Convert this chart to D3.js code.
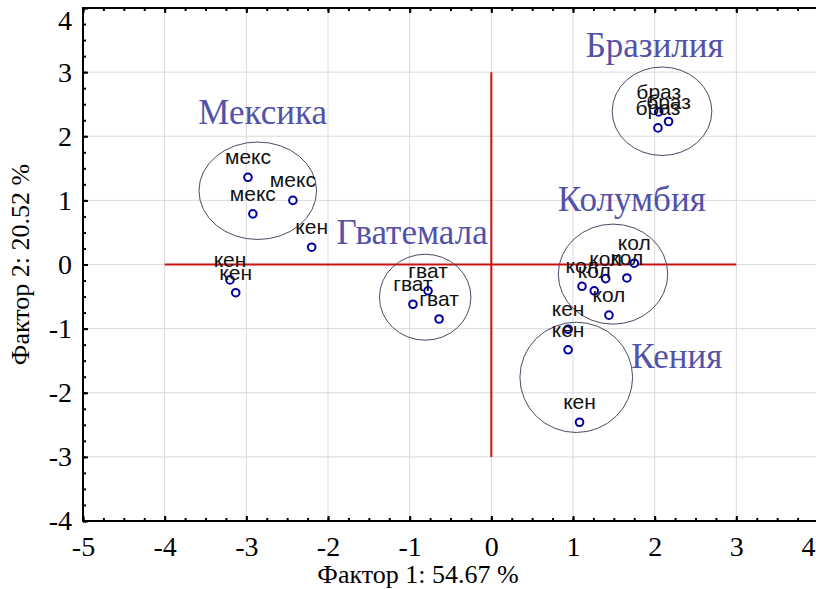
<!DOCTYPE html>
<html>
<head>
<meta charset="utf-8">
<script src="https://cdn.jsdelivr.net/npm/d3@7"></script>
<style>
    body { margin: 0; background: #fff; }
    svg { display: block; }
</style>
</head>
<body>
<svg id="chart"></svg>
<script>
// point data: label, factor 1, factor 2
const pointLabels = ["мекс", "мекс", "мекс",
    "кен", "кен", "кен", "кен", "кен", "кен",
    "гват", "гват", "гват",
    "кол", "кол", "кол", "кол", "кол", "кол",
    "браз", "браз", "браз"];
const pointX = [-2.98, -2.43, -2.92,
    -2.20, -3.20, -3.13, 0.94, 0.94, 1.08,
    -0.775, -0.96, -0.64,
    1.75, 1.66, 1.40, 1.11, 1.26, 1.44,
    2.05, 2.17, 2.04];
const pointY = [1.36, 1.00, 0.79,
    0.27, -0.24, -0.44, -1.01, -1.33, -2.46,
    -0.41, -0.62, -0.85,
    0.02, -0.21, -0.22, -0.34, -0.41, -0.79,
    2.38, 2.23, 2.13];

// cluster ellipses (data units)
const clusterNames = ["Бразилия", "Мексика", "Колумбия", "Гватемала", "Кения"];
const clusterLabelX = [2.0, -2.8, 1.72, -0.97, 2.27];
const clusterLabelY = [3.42, 2.38, 1.02, 0.51, -1.43];
const ellipseCx = [2.09, -2.86, 1.49, -0.81, 1.04];
const ellipseCy = [2.39, 1.15, -0.15, -0.51, -1.76];
const ellipseRx = [0.61, 0.72, 0.67, 0.56, 0.69];
const ellipseRy = [0.69, 0.76, 0.78, 0.67, 0.86];

// axes
const xTicks = [-5, -4, -3, -2, -1, 0, 1, 2, 3, 4];
const yTicks = [-4, -3, -2, -1, 0, 1, 2, 3, 4];
const crossH = [-4, 3];   // horizontal red line along factor 2 = 0
const crossV = [-3, 3];   // vertical red line along factor 1 = 0

const width = 816, height = 589;
const margin = { left: 83, right: -2, top: 8, bottom: 68 };
const serif = '"Liberation Serif", "Times New Roman", serif';

const svg = d3.select('#chart')
    .attr('width', width)
    .attr('height', height);

const x = d3.scaleLinear()
    .domain([-5, 4])
    .range([margin.left, width - margin.right]);

const y = d3.scaleLinear()
    .domain([-4, 4])
    .range([height - margin.bottom, margin.top]);

const x0 = x.range()[0], x1 = x.range()[1];
const y0 = y.range()[1], y1 = y.range()[0];

// grid
svg.append('g')
    .selectAll('line')
    .data(xTicks.slice(1, -1))
    .join('line')
    .attr('x1', d => x(d)).attr('x2', d => x(d))
    .attr('y1', y0).attr('y2', y1)
    .attr('stroke', '#dadada');

svg.append('g')
    .selectAll('line')
    .data(yTicks.slice(1, -1))
    .join('line')
    .attr('x1', x0).attr('x2', x1)
    .attr('y1', d => y(d)).attr('y2', d => y(d))
    .attr('stroke', '#dadada');

// minor ticks every 0.25, inward
const xMinor = d3.range(-5, 4.001, 0.25);
const yMinor = d3.range(-4, 4.001, 0.25);

function addAxis(axis, transform) {
    const g = svg.append('g').attr('transform', transform).call(axis);
    g.select('.domain').remove();
    g.selectAll('.tick line').attr('stroke', '#000').attr('stroke-width', 2);
    g.selectAll('.tick text')
        .style('font-family', serif)
        .style('font-size', '28px')
        .attr('fill', '#000');
    return g;
}

addAxis(d3.axisBottom(x).tickValues(xMinor).tickSize(-3).tickFormat(''), `translate(0,${y1})`);
addAxis(d3.axisTop(x).tickValues(xMinor).tickSize(-3).tickFormat(''), `translate(0,${y0})`);
addAxis(d3.axisLeft(y).tickValues(yMinor).tickSize(-3).tickFormat(''), `translate(${x0},0)`);

const xAxis = addAxis(d3.axisBottom(x).tickValues(xTicks).tickSize(-5).tickPadding(15)
    .tickFormat(d => String(d)), `translate(0,${y1})`);
addAxis(d3.axisTop(x).tickValues(xTicks).tickSize(-5).tickFormat(''), `translate(0,${y0})`);
const yAxis = addAxis(d3.axisLeft(y).tickValues(yTicks).tickSize(-5).tickPadding(11)
    .tickFormat(d => String(d)), `translate(${x0},0)`);

// keep the edge labels inside the picture, as in the original
xAxis.selectAll('.tick').filter(d => d === 4).select('text')
    .attr('text-anchor', 'end').attr('x', width - x(4) - 1);
yAxis.selectAll('.tick').filter(d => d === 4).select('text')
    .attr('dy', '0.75em');

// frame
svg.append('path')
    .attr('d', `M${x1},${y0}H${x0}V${y1}H${x1}`)
    .attr('fill', 'none')
    .attr('stroke', '#000')
    .attr('stroke-width', 2);

// axis titles
svg.append('text')
    .attr('x', 418)
    .attr('y', 583)
    .attr('text-anchor', 'middle')
    .style('font-family', serif)
    .style('font-size', '26px')
    .text('Фактор 1: 54.67 %');

svg.append('text')
    .attr('transform', `translate(29,${y(0)}) rotate(-90)`)
    .attr('text-anchor', 'middle')
    .style('font-family', serif)
    .style('font-size', '26px')
    .text('Фактор 2: 20.52 %');

// red cross through the origin
svg.append('line')
    .attr('x1', x(crossH[0])).attr('x2', x(crossH[1]))
    .attr('y1', y(0)).attr('y2', y(0))
    .attr('stroke', '#cc1111').attr('stroke-width', 2);
svg.append('line')
    .attr('x1', x(0)).attr('x2', x(0))
    .attr('y1', y(crossV[0])).attr('y2', y(crossV[1]))
    .attr('stroke', '#cc1111').attr('stroke-width', 2);

// ellipses
svg.append('g')
    .selectAll('ellipse')
    .data(d3.range(clusterNames.length))
    .join('ellipse')
    .attr('cx', i => x(ellipseCx[i]))
    .attr('cy', i => y(ellipseCy[i]))
    .attr('rx', i => x(ellipseRx[i]) - x(0))
    .attr('ry', i => y(0) - y(ellipseRy[i]))
    .attr('fill', 'none')
    .attr('stroke', '#4a4a66')
    .attr('stroke-width', 1);

// cluster names
svg.append('g')
    .selectAll('text')
    .data(d3.range(clusterNames.length))
    .join('text')
    .attr('x', i => x(clusterLabelX[i]))
    .attr('y', i => y(clusterLabelY[i]))
    .attr('dy', '0.35em')
    .attr('text-anchor', 'middle')
    .style('font-family', serif)
    .style('font-size', '35px')
    .attr('fill', '#5252a8')
    .text(i => clusterNames[i]);

// points
const pts = d3.range(pointLabels.length);

svg.append('g')
    .selectAll('circle')
    .data(pts)
    .join('circle')
    .attr('cx', i => x(pointX[i]))
    .attr('cy', i => y(pointY[i]))
    .attr('r', 3.8)
    .attr('fill', '#fff')
    .attr('stroke', '#0000a0')
    .attr('stroke-width', 2);

svg.append('g')
    .selectAll('text')
    .data(pts)
    .join('text')
    .attr('x', i => x(pointX[i]))
    .attr('y', i => y(pointY[i]) - 13)
    .attr('text-anchor', 'middle')
    .style('font-family', '"Liberation Sans", Arial, sans-serif')
    .style('font-size', '21px')
    .attr('fill', '#111')
    .text(i => pointLabels[i]);
</script>
</body>
</html>
